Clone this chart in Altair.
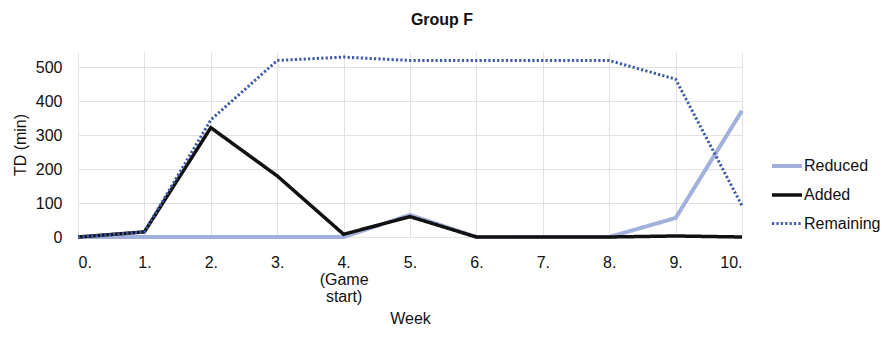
import altair as alt
import pandas as pd

weeks = [0, 1, 2, 3, 4, 5, 6, 7, 8, 9, 10]
series_names = ["Reduced", "Added", "Remaining"]
reduced = [0, 0, 0, 0, 0, 65, 0, 0, 0, 56, 372]
added = [0, 15, 322, 180, 8, 60, 0, 0, 0, 3, 0]
remaining = [0, 15, 345, 520, 530, 520, 520, 520, 520, 465, 92]
y_ticks = [0, 100, 200, 300, 400, 500]

rows = []
for name, vals in zip(series_names, [reduced, added, remaining]):
    for w, v in zip(weeks, vals):
        rows.append({"week": w, "value": v, "series": name})
df = pd.DataFrame(rows)

FONT = "Liberation Sans"


def leg():
    return alt.Legend(title=None, orient="none", legendX=692, legendY=97,
                      symbolType="stroke", symbolSize=900, labelOffset=0,
                      labelFontSize=16, labelFont=FONT, labelColor="#111",
                      rowPadding=4)


chart = alt.Chart(df).mark_line(strokeCap="butt").encode(
    x=alt.X("week:Q",
            scale=alt.Scale(domain=[0, 10], nice=False, zero=False),
            axis=alt.Axis(values=weeks, title="Week", grid=True, ticks=False, domain=False,
                          labelExpr="datum.value == 4 ? ['4.', '(Game', 'start)'] : datum.value + '.'",
                          labelFontSize=16, labelPadding=17, labelLineHeight=17,
                          titleFontSize=16, titleFontWeight="normal", titlePadding=6,
                          labelFont=FONT, titleFont=FONT, labelColor="#111", titleColor="#111",
                          gridColor="#e2e2e2")),
    y=alt.Y("value:Q",
            scale=alt.Scale(domain=[0, 545], nice=False),
            axis=alt.Axis(values=y_ticks, title="TD (min)", grid=True, ticks=False, domain=False,
                          labelFontSize=16, labelPadding=16, titleFontSize=16,
                          titleFontWeight="normal", titlePadding=7,
                          labelFont=FONT, titleFont=FONT, labelColor="#111", titleColor="#111",
                          gridColor="#e2e2e2")),
    color=alt.Color("series:N",
                    scale=alt.Scale(domain=series_names, range=["#a2b0dc", "#111111", "#3c5aa8"]),
                    legend=leg()),
    strokeDash=alt.StrokeDash("series:N",
                              scale=alt.Scale(domain=series_names, range=[[1, 0], [1, 0], [2.2, 2.2]]),
                              legend=leg()),
    strokeWidth=alt.StrokeWidth("series:N",
                                scale=alt.Scale(domain=series_names, range=[4, 3, 3]),
                                legend=leg()),
    order=alt.Order("series:N"),
).properties(
    width=664,
    height=185,
    title=alt.TitleParams("Group F", font=FONT, fontSize=16, fontWeight="bold",
                          anchor="middle", dx=32, offset=23, color="#111"),
    autosize=alt.AutoSizeParams(type="none"),
    padding={"left": 70, "top": 44, "right": 141, "bottom": 92},
).configure_view(stroke=None)

chart.save("out.html", embed_options={"renderer": "svg", "actions": False})
